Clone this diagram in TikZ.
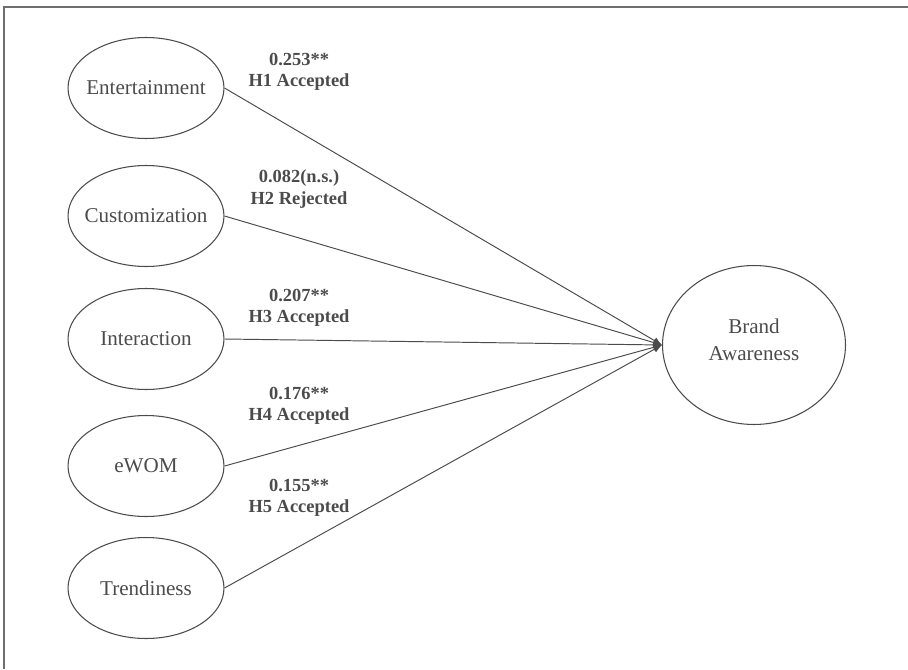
\documentclass[tikz,border=0pt]{standalone}
\usepackage{fontspec}
\setmainfont{Liberation Serif}
\usetikzlibrary{positioning,shapes.geometric,arrows.meta}
\definecolor{LineGray}{RGB}{75,75,75}
\definecolor{FrameGray}{RGB}{110,110,110}
\tikzset{
  construct/.style={ellipse,draw=LineGray,line width=0.6pt,minimum width=3.12cm,minimum height=2.02cm,
    inner xsep=-12pt,inner ysep=0pt,text=LineGray,font=\fontsize{12}{15.3}\selectfont,align=center},
  outcome/.style={construct,minimum width=3.66cm,minimum height=3.18cm,text depth=5.6pt},
  effect/.style={draw=LineGray,line width=0.55pt,-{Latex[length=5pt,width=4pt]}},
}
\tikzset{result/.style={text=LineGray,font=\fontsize{10.5}{12.2}\selectfont\bfseries,align=center}}

\begin{document}
\begin{tikzpicture}[x=0.02cm,y=-0.02cm]
\useasboundingbox (0,0) rectangle (908,669);
\draw[FrameGray,line width=1.1pt] (4,669) -- (4,7) -- (908,7);
\node[construct] (ent) at (146,88) {Entertainment};
\node[construct] (cus) at (146,216) {Customization};
\node[construct] (int) at (146,339) {Interaction};
\node[construct] (ewom) at (146,466) {eWOM};
\node[construct] (tre) at (146,588) {Trendiness};
\node[outcome] (ba) at (754,345) {Brand\\Awareness};
\draw[effect] (ent.east) -- (ba.west);
\draw[effect] (cus.east) -- (ba.west);
\draw[effect] (int.east) -- (ba.west);
\draw[effect] (ewom.east) -- (ba.west);
\draw[effect] (tre.east) -- (ba.west);
\node[result] (h1) at (299,72) {0.253**\\H1 Accepted};
\node[result] (h2) at (299,189) {0.082(n.s.)\\H2 Rejected};
\node[result] (h3) at (299,308) {0.207**\\H3 Accepted};
\node[result] (h4) at (299,406) {0.176**\\H4 Accepted};
\node[result] (h5) at (299,498) {0.155**\\H5 Accepted};
\end{tikzpicture}
\end{document}
